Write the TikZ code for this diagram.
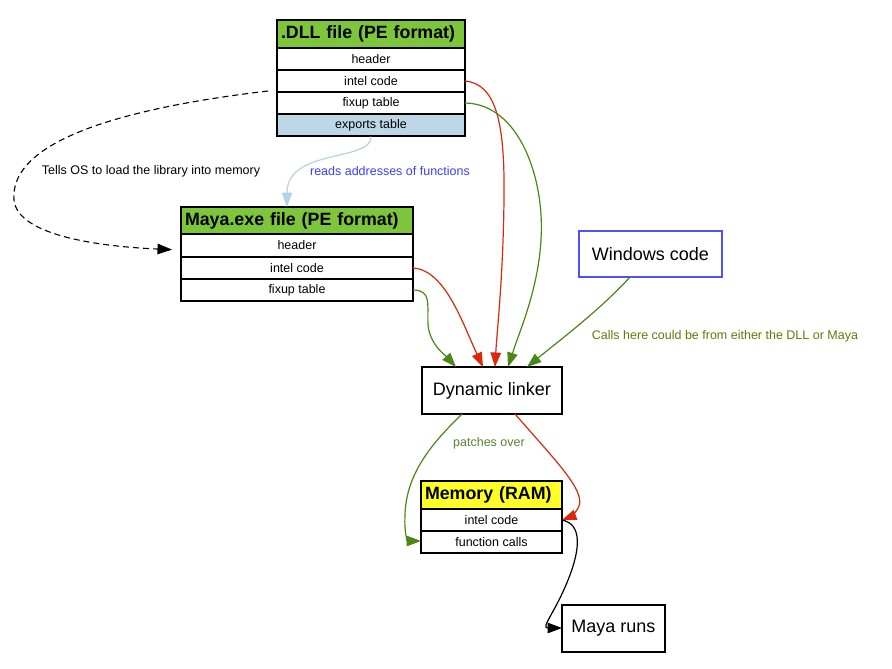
\documentclass[tikz,border=0pt]{standalone}
\usepackage{fontspec}
\setmainfont{Liberation Sans}
\usetikzlibrary{arrows.meta}
\definecolor{titlegreen}{RGB}{125,197,58}
\definecolor{expblue}{RGB}{189,215,230}
\definecolor{memyellow}{RGB}{255,255,40}
\definecolor{winblue}{RGB}{80,80,255}
\definecolor{edgered}{RGB}{220,40,10}
\definecolor{edgegreen}{RGB}{75,135,20}
\definecolor{edgelight}{RGB}{180,210,228}
\definecolor{lblblue}{RGB}{60,60,255}
\definecolor{lblolive}{RGB}{100,120,10}
\definecolor{lblpatch}{RGB}{90,130,50}
\tikzset{
  cell/.style={draw, line width=1.1pt, inner sep=0pt, minimum height=22pt, font=\fontsize{12.5}{14}\selectfont},
  titlecell/.style={cell, minimum height=28pt, inner xsep=4pt, align=left, font=\fontsize{17.8}{20}\selectfont\bfseries},
  plainbox/.style={draw, line width=1.1pt, inner sep=0pt, minimum height=46pt, font=\fontsize{18}{20}\selectfont},
  lbl/.style={font=\fontsize{12.5}{14}\selectfont, inner sep=0pt},
  tip/.style={-{Triangle[length=14.5pt,width=10.5pt]}},
  edge/.style={line width=1.2pt, tip}
}
\begin{document}
\begin{tikzpicture}[x=1pt,y=-1pt]
\useasboundingbox (0,0) rectangle (892,669);
% DLL file
\node[titlecell, fill=titlegreen, minimum width=188pt, text width=180pt] (dlltitle) at (371,34) {.DLL file (PE format)};
\node[cell, minimum width=188pt] (dllhead) at (371,59) {header};
\node[cell, minimum width=188pt] (dllintel) at (371,81) {intel code};
\node[cell, minimum width=188pt] (dllfix) at (371,103) {fixup table};
\node[cell, fill=expblue, minimum width=188pt] (dllexp) at (371,125) {exports table};
% Maya.exe file
\node[titlecell, fill=titlegreen, minimum width=232pt, text width=224pt, minimum height=27pt] (mayatitle) at (297,220.5) {Maya.exe file (PE format)};
\node[cell, minimum width=232pt] (mayahead) at (297,245.5) {header};
\node[cell, minimum width=232pt] (mayaintel) at (297,268) {intel code};
\node[cell, minimum width=232pt] (mayafix) at (297,290) {fixup table};
% Windows code
\node[plainbox, draw=winblue, minimum width=143pt] (win) at (650.5,254) {Windows code};
% Dynamic linker
\node[plainbox, minimum width=140pt, minimum height=47pt] (dl) at (492,390.5) {Dynamic linker};
% Memory
\node[titlecell, fill=memyellow, minimum width=141pt, text width=133pt] (memtitle) at (491.5,495) {Memory (RAM)};
\node[cell, minimum width=141pt] (memintel) at (491.5,520) {intel code};
\node[cell, minimum width=141pt] (memcalls) at (491.5,542) {function calls};
% Maya runs
\node[plainbox, minimum width=103pt, minimum height=47pt] (runs) at (613.5,628.5) {Maya runs};
% coordinates
\coordinate (dashstart) at (268,91);
\coordinate (dashend) at (181,250);
\coordinate (mt) at (287,207);
\coordinate (dlA) at (456,367);
\coordinate (dlB) at (483,367);
\coordinate (dlC) at (495,367);
\coordinate (dlD) at (508,367);
\coordinate (dlE) at (527,367);
\coordinate (dlout1) at (462,414);
\coordinate (dlout2) at (515,414);
\coordinate (dllintelE) at (465,81);
\coordinate (dllfixE) at (465,103);
\coordinate (mayaintelE) at (413,268);
\coordinate (mayafixE) at (413,290);
\coordinate (winS) at (630,277);
\coordinate (memintelE) at (562,520);
\coordinate (memcallsW) at (421,541);
\coordinate (runsW) at (562,628);
% edges
\draw[line width=1.1pt, dashed, dash pattern=on 6pt off 4pt, tip, shorten >=9pt] (dashstart) .. controls (90,112) and (10,150) .. (14,200) .. controls (18,238) and (110,247) .. (dashend);
\node[lbl] (lblos) at (151,171) {Tells OS to load the library into memory};
\draw[edge, draw=edgelight, -{Triangle[length=14.5pt,width=10.5pt,fill=edgelight]}] (dllexp.south) .. controls (372,162) and (287,148) .. (mt);
\node[lbl, text=lblblue] (lblreads) at (390,171) {reads addresses of functions};
\draw[edge, edgered] (mayaintelE) .. controls (445,270) and (462,322) .. (dlB);
\draw[edge, edgegreen] (mayafixE) .. controls (432,290) and (427,305) .. (428,325) .. controls (430,345) and (446,356) .. (dlA);
\draw[edge, edgered] (dllintelE) .. controls (497,84) and (505,125) .. (504,200) .. controls (503,280) and (497,330) .. (dlC);
\draw[edge, edgegreen] (dllfixE) .. controls (520,104) and (545,180) .. (541,240) .. controls (538,290) and (520,330) .. (dlD);
\draw[edge, edgegreen] (winS) .. controls (600,310) and (560,340) .. (dlE);
\node[lbl, text=lblolive] (lblcalls) at (725,336) {Calls here could be from either the DLL or Maya};
\draw[edge, edgegreen] (dlout1) .. controls (430,445) and (406,475) .. (405,515) .. controls (404,535) and (408,541) .. (memcallsW);
\node[lbl, text=lblpatch] (lblpatch) at (489,443) {patches over};
\draw[edge, edgered] (dlout2) .. controls (555,460) and (585,490) .. (579,506) .. controls (576,513) and (570,517) .. (memintelE);
\draw[edge, black] (memintelE) .. controls (582,524) and (580,548) .. (570,575) .. controls (556,612) and (540,628) .. (runsW);
\end{tikzpicture}
\end{document}
